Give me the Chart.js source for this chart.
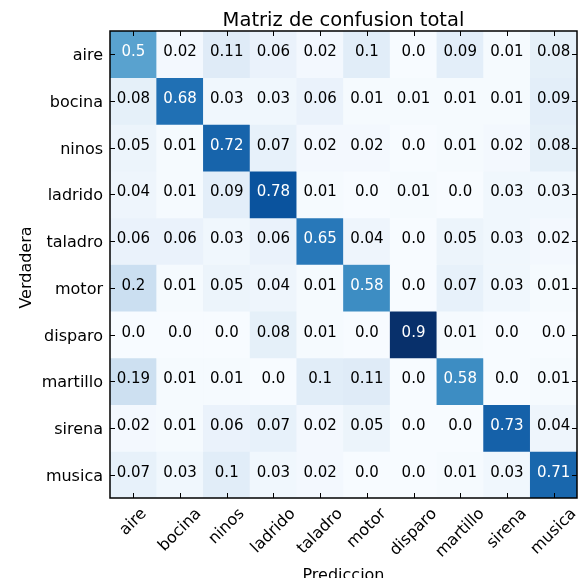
<!DOCTYPE html>
<html>
<head>
<meta charset="utf-8">
<script src="https://cdn.jsdelivr.net/npm/chart.js@4.4.1/dist/chart.umd.min.js"></script>
<style>
  html, body { margin: 0; padding: 0; background: #ffffff; }
  canvas { display: block; }
</style>
</head>
<body>
<canvas id="cm" width="581" height="585"></canvas>
<script>
// Class names (predicted along x, true along y)
const predictedLabels = ['aire', 'bocina', 'ninos', 'ladrido', 'taladro', 'motor', 'disparo', 'martillo', 'sirena', 'musica'];
const trueLabels = ['aire', 'bocina', 'ninos', 'ladrido', 'taladro', 'motor', 'disparo', 'martillo', 'sirena', 'musica'];

// Normalised confusion rates, one row per true class
const rowAire     = [0.5, 0.02, 0.11, 0.06, 0.02, 0.1, 0.0, 0.09, 0.01, 0.08];
const rowBocina   = [0.08, 0.68, 0.03, 0.03, 0.06, 0.01, 0.01, 0.01, 0.01, 0.09];
const rowNinos    = [0.05, 0.01, 0.72, 0.07, 0.02, 0.02, 0.0, 0.01, 0.02, 0.08];
const rowLadrido  = [0.04, 0.01, 0.09, 0.78, 0.01, 0.0, 0.01, 0.0, 0.03, 0.03];
const rowTaladro  = [0.06, 0.06, 0.03, 0.06, 0.65, 0.04, 0.0, 0.05, 0.03, 0.02];
const rowMotor    = [0.2, 0.01, 0.05, 0.04, 0.01, 0.58, 0.0, 0.07, 0.03, 0.01];
const rowDisparo  = [0.0, 0.0, 0.0, 0.08, 0.01, 0.0, 0.9, 0.01, 0.0, 0.0];
const rowMartillo = [0.19, 0.01, 0.01, 0.0, 0.1, 0.11, 0.0, 0.58, 0.0, 0.01];
const rowSirena   = [0.02, 0.01, 0.06, 0.07, 0.02, 0.05, 0.0, 0.0, 0.73, 0.04];
const rowMusica   = [0.07, 0.03, 0.1, 0.03, 0.02, 0.0, 0.0, 0.01, 0.03, 0.71];

const matrix = [rowAire, rowBocina, rowNinos, rowLadrido, rowTaladro, rowMotor, rowDisparo, rowMartillo, rowSirena, rowMusica];

const FONT = "'DejaVu Sans', 'Liberation Sans', sans-serif";

// Sequential blue colour ramp (ColorBrewer Blues)
const bluesStops = [
  [247, 251, 255], [222, 235, 247], [198, 219, 239], [158, 202, 225],
  [107, 174, 214], [66, 146, 198], [33, 113, 181], [8, 81, 156], [8, 48, 107]
];
const allValues = matrix.flat();
const vMin = Math.min(...allValues);
const vMax = Math.max(...allValues);

function blues(v) {
  let t = (v - vMin) / (vMax - vMin);
  t = Math.max(0, Math.min(1, t));
  const pos = t * (bluesStops.length - 1);
  const k = Math.min(Math.floor(pos), bluesStops.length - 2);
  const f = pos - k;
  const a = bluesStops[k], b = bluesStops[k + 1];
  const c = a.map((x, i) => Math.round(x + (b[i] - x) * f));
  return `rgb(${c[0]},${c[1]},${c[2]})`;
}

function fmt(v) {
  const s = String(v);
  return s.includes('.') ? s : s + '.0';
}

// Each true class is one dataset; its cells are floating bars spanning one row
const datasets = matrix.map((vals, i) => ({
  label: trueLabels[i],
  data: vals.map(() => [i, i + 1]),
  backgroundColor: vals.map(blues),
  borderWidth: 0,
  barPercentage: 1,
  categoryPercentage: 1,
  grouped: false
}));

const annotate = {
  id: 'annotate',
  afterDatasetsDraw(chart) {
    const ctx = chart.ctx;
    const xs = chart.scales.x, ys = chart.scales.y;
    const area = chart.chartArea;
    const half = (ys.getPixelForValue(1) - ys.getPixelForValue(0)) / 2;
    ctx.save();

    // cell values
    ctx.font = `15px ${FONT}`;
    ctx.textAlign = 'center';
    ctx.textBaseline = 'alphabetic';
    const thresh = vMax / 2;
    matrix.forEach((vals, i) => {
      const cy = ys.getPixelForValue(i) + half;
      vals.forEach((v, j) => {
        const cx = xs.getPixelForValue(j);
        ctx.fillStyle = v > thresh ? '#ffffff' : '#000000';
        ctx.fillText(fmt(v), cx, cy + 2);
      });
    });

    // frame
    ctx.strokeStyle = '#000000';
    ctx.lineWidth = 1.5;
    ctx.strokeRect(area.left, area.top, area.right - area.left, area.bottom - area.top);

    // inward tick marks
    ctx.lineWidth = 1;
    ctx.beginPath();
    const tl = 5;
    predictedLabels.forEach((_, j) => {
      const x = Math.round(xs.getPixelForValue(j)) + 0.5;
      ctx.moveTo(x, area.top); ctx.lineTo(x, area.top + tl);
      ctx.moveTo(x, area.bottom); ctx.lineTo(x, area.bottom - tl);
    });
    trueLabels.forEach((_, i) => {
      const y = Math.round(ys.getPixelForValue(i) + half) + 0.5;
      ctx.moveTo(area.left, y); ctx.lineTo(area.left + tl, y);
      ctx.moveTo(area.right, y); ctx.lineTo(area.right - tl, y);
    });
    ctx.stroke();

    // y tick labels
    ctx.fillStyle = '#000000';
    ctx.font = `16px ${FONT}`;
    ctx.textAlign = 'right';
    ctx.textBaseline = 'alphabetic';
    trueLabels.forEach((lab, i) => {
      const cy = ys.getPixelForValue(i) + half;
      ctx.fillText(lab, area.left - 7, cy + 6);
    });

    // x tick labels, rotated 45 degrees with their box centred under the tick
    const c45 = Math.SQRT1_2;
    predictedLabels.forEach((lab, j) => {
      const cx = xs.getPixelForValue(j);
      const w = ctx.measureText(lab).width;
      const H = (w + 18) * c45;
      ctx.save();
      ctx.translate(cx, area.bottom + 7 + H / 2);
      ctx.rotate(-Math.PI / 4);
      ctx.textAlign = 'center';
      ctx.textBaseline = 'middle';
      ctx.fillText(lab, 0, 0);
      ctx.restore();
    });

    // title
    const midX = (area.left + area.right) / 2;
    ctx.font = `19.5px ${FONT}`;
    ctx.textAlign = 'center';
    ctx.textBaseline = 'alphabetic';
    ctx.fillText('Matriz de confusion total', midX, 26);

    // axis titles
    ctx.font = `16px ${FONT}`;
    ctx.save();
    ctx.beginPath();
    ctx.rect(0, 0, chart.width, 578);
    ctx.clip();
    ctx.fillText('Prediccion', midX, 580);
    ctx.restore();

    ctx.save();
    ctx.translate(31, (area.top + area.bottom) / 2 + 3);
    ctx.rotate(-Math.PI / 2);
    ctx.textAlign = 'center';
    ctx.textBaseline = 'alphabetic';
    ctx.fillText('Verdadera', 0, 0);
    ctx.restore();

    ctx.restore();
  }
};

new Chart(document.getElementById('cm'), {
  type: 'bar',
  data: { labels: predictedLabels, datasets },
  options: {
    responsive: false,
    animation: false,
    devicePixelRatio: 1,
    layout: { padding: { left: 110, top: 31, right: 4, bottom: 87 } },
    scales: {
      x: { type: 'category', offset: true, display: false },
      y: { type: 'linear', min: 0, max: 10, reverse: true, display: false }
    },
    plugins: {
      legend: { display: false },
      tooltip: { enabled: false },
      title: { display: false }
    }
  },
  plugins: [annotate]
});
</script>
</body>
</html>
